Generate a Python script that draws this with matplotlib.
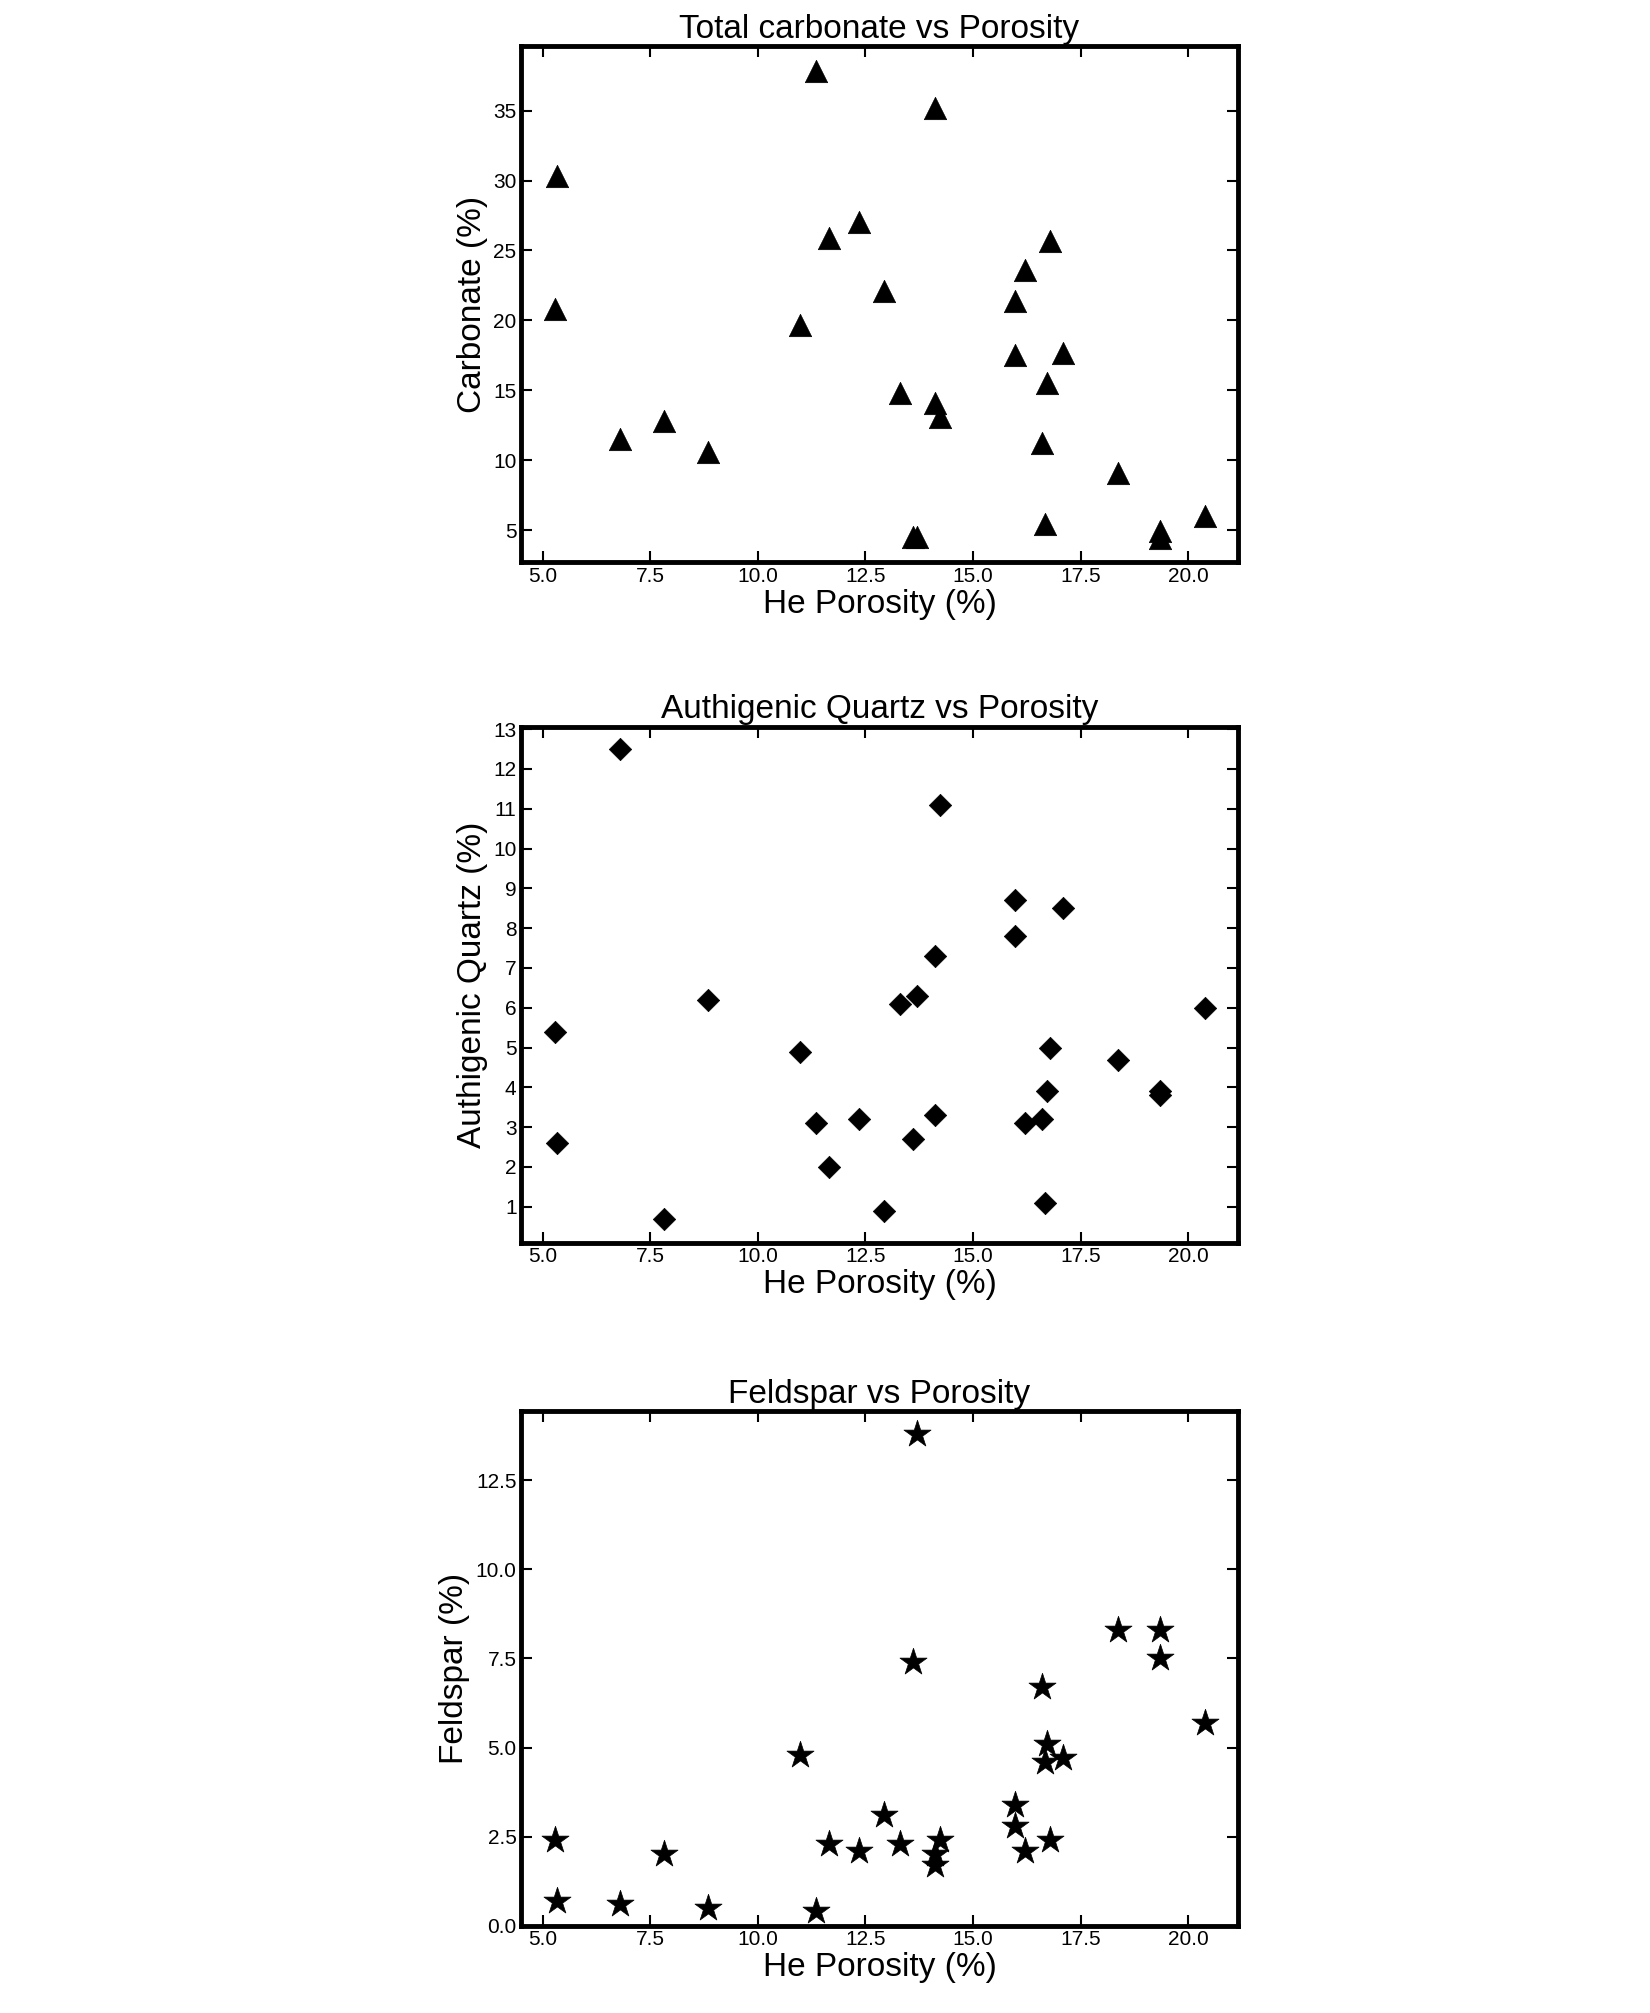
import matplotlib
matplotlib.use("Agg")
import matplotlib.pyplot as plt

plt.rcParams['font.family'] = ['Liberation Sans', 'DejaVu Sans']

porosity = [5.33, 5.27, 6.8, 7.82, 8.84, 10.97, 11.36, 11.66, 12.35, 12.92, 13.31, 13.6, 13.7,
            14.12, 14.12, 14.24, 15.98, 15.98, 16.22, 16.79, 16.73, 16.61, 16.67, 17.09, 18.38,
            19.34, 19.34, 20.39]
carbonate = [30.3, 20.8, 11.5, 12.8, 10.6, 19.7, 37.8, 25.9, 27.0, 22.1, 14.8, 4.5, 4.5,
             35.2, 14.1, 13.1, 21.4, 17.5, 23.6, 25.7, 15.5, 11.2, 5.4, 17.7, 9.1, 4.9, 4.4, 6.0]
por_q = [5.27, 5.33, 6.8, 7.82, 8.84, 10.97, 11.36, 11.66, 12.35, 12.92, 13.31, 13.6, 13.7,
         14.12, 14.12, 14.24, 15.98, 15.98, 16.22, 16.79, 16.73, 16.61, 16.67, 17.09, 18.38,
         19.34, 19.34, 20.39]
quartz = [5.4, 2.6, 12.5, 0.7, 6.2, 4.9, 3.1, 2.0, 3.2, 0.9, 6.1, 2.7, 6.3, 7.3, 3.3, 11.1,
          8.7, 7.8, 3.1, 5.0, 3.9, 3.2, 1.1, 8.5, 4.7, 3.9, 3.8, 6.0]
por_f = [5.27, 5.33, 6.8, 7.82, 8.84, 10.97, 11.36, 11.66, 12.35, 12.92, 13.31, 13.6, 13.7,
         14.12, 14.12, 14.24, 15.98, 15.98, 16.22, 16.79, 16.73, 16.61, 16.67, 17.09, 18.38,
         19.34, 19.34, 20.39]
feldspar = [2.4, 0.7, 0.6, 2.0, 0.5, 4.8, 0.4, 2.3, 2.1, 3.1, 2.3, 7.4, 13.8, 2.0, 1.7, 2.4,
            3.4, 2.8, 2.1, 2.4, 5.1, 6.7, 4.6, 4.7, 8.3, 8.3, 7.5, 5.7]

fig = plt.figure(figsize=(16.5, 20.13), dpi=100)
panels = [
    ([0.316, 0.7207, 0.434, 0.2563], porosity, carbonate, '^', 'Total carbonate vs Porosity',
     'Carbonate (%)', (2.7, 39.6), [5, 10, 15, 20, 25, 30, 35], None, 260),
    ([0.316, 0.3827, 0.434, 0.2563], por_q, quartz, 'D', 'Authigenic Quartz vs Porosity',
     'Authigenic Quartz (%)', (0.1, 13.06), list(range(1, 14)), None, 130),
    ([0.316, 0.0434, 0.434, 0.2557], por_f, feldspar, '*', 'Feldspar vs Porosity',
     'Feldspar (%)', (0, 14.45), [0, 2.5, 5, 7.5, 10, 12.5], '%.1f', 420),
]
for rect, x, y, m, title, ylabel, ylim, yt, fmt, s in panels:
    ax = fig.add_axes(rect)
    ax.scatter(x, y, marker=m, s=s, c='black', edgecolors='black', linewidths=0.5)
    ax.set_xlim(4.5, 21.15)
    ax.set_ylim(*ylim)
    ax.set_xticks([5, 7.5, 10, 12.5, 15, 17.5, 20])
    ax.set_xticklabels(['%.1f' % v for v in [5, 7.5, 10, 12.5, 15, 17.5, 20]])
    ax.set_yticks(yt)
    if fmt:
        ax.set_yticklabels([fmt % v for v in yt])
    ax.tick_params(direction='in', top=True, right=True, labelsize=15, length=8, width=1.5)
    for sp in ax.spines.values():
        sp.set_linewidth(3.5)
    ax.set_title(title, fontsize=24, pad=6)
    ax.set_xlabel('He Porosity (%)', fontsize=24, labelpad=2)
    ax.set_ylabel(ylabel, fontsize=24)
fig.savefig('out.png', dpi=100)
